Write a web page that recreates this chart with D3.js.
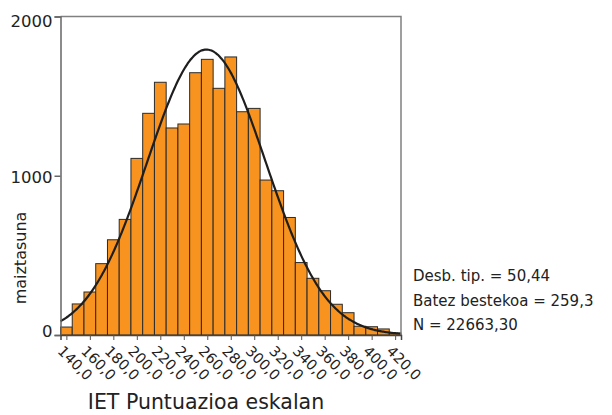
<!DOCTYPE html>
<html>
<head>
<meta charset="utf-8">
<script src="https://cdn.jsdelivr.net/npm/d3@7"></script>
<style>
  body { margin: 0; background: #fff; }
  text { font-family: "DejaVu Sans", sans-serif; fill: #222; }
</style>
</head>
<body>
<svg id="hist" width="612" height="415"></svg>
<script>
// bin centres (width 10) and frequencies
let bins = [140, 150, 160, 170, 180, 190, 200, 210, 220, 230, 240, 250, 260, 270, 280,
    290, 300, 310, 320, 330, 340, 350, 360, 370, 380, 390, 400, 410, 420];
let counts = [50, 195, 270, 448, 598, 726, 1109, 1392, 1587, 1300, 1325, 1647, 1731, 1549, 1746,
    1402, 1423, 973, 906, 738, 455, 356, 278, 193, 140, 55, 52, 38, 12];
let xTicks = [140, 160, 180, 200, 220, 240, 260, 280, 300, 320, 340, 360, 380, 400, 420];
let yTicks = [0, 1000, 2000];
let stats = {sd: 50.44, mean: 259.3, n: 22663.30};
let statLines = ["Desb. tip. = 50,44", "Batez bestekoa = 259,3", "N = 22663,30"];
let binWidth = 10;

let svg = d3.select("#hist"),
    plotL = 60.5, plotR = 401, plotT = 16.5, plotB = 335;

let x = d3.scaleLinear().domain([135, 425]).range([plotL, plotR]);
let y = d3.scaleLinear().domain([0, 2000]).range([plotB, plotT]);

let data = bins.map((b, i) => ({bin: b, count: counts[i]}));

// bars
svg.append("g").selectAll("rect")
    .data(data)
    .enter().append("rect")
    .attr("x", d => x(d.bin - binWidth / 2))
    .attr("y", d => y(d.count))
    .attr("width", d => x(d.bin + binWidth / 2) - x(d.bin - binWidth / 2))
    .attr("height", d => y(0) - y(d.count))
    .attr("fill", "#F7931E")
    .attr("stroke", "#2b2b2b")
    .attr("stroke-width", 1);

// normal curve from the reported stats
let dens = v => stats.n * binWidth / (stats.sd * Math.sqrt(2 * Math.PI)) *
    Math.exp(-0.5 * Math.pow((v - stats.mean) / stats.sd, 2));
let curvePts = d3.range(x.domain()[0], x.domain()[1] + 0.5, 1);
svg.append("path")
    .datum(curvePts)
    .attr("fill", "none")
    .attr("stroke", "#1e1e1e")
    .attr("stroke-width", 2.2)
    .attr("d", d3.line().x(v => x(v)).y(v => y(dens(v))).curve(d3.curveBasis));

// frame
svg.append("path")
    .attr("d", "M" + plotL + "," + plotT + "H" + plotR + "V" + plotB)
    .attr("fill", "none")
    .attr("stroke", "#808080")
    .attr("stroke-width", 1.5);

let yAxis = svg.append("g")
    .attr("transform", "translate(" + plotL + ",0)")
    .call(d3.axisLeft(y).tickValues(yTicks).tickSize(6).tickPadding(2).tickFormat(d3.format("d")));
yAxis.select(".domain").attr("stroke", "#666").attr("stroke-width", 1.5);
yAxis.selectAll(".tick line").attr("stroke", "#666").attr("stroke-width", 1.5);
yAxis.selectAll("text")
    .style("font-size", "16.5px")
    .attr("fill", "#222")
    .attr("dy", d => d === 2000 ? "0.6em" : (d === 0 ? "0.1em" : "0.38em"));

let xAxis = svg.append("g")
    .attr("transform", "translate(0," + plotB + ")")
    .call(d3.axisBottom(x).tickValues(xTicks).tickSize(5).tickFormat(d => d + ",0"));
xAxis.select(".domain").attr("stroke", "#444").attr("stroke-width", 1.5);
xAxis.selectAll(".tick line").attr("stroke", "#555");
xAxis.selectAll("text")
    .style("font-size", "14.5px")
    .attr("fill", "#222")
    .attr("text-anchor", "start")
    .attr("x", 0).attr("y", 0).attr("dy", 0)
    .attr("transform", "translate(-10,17) rotate(45)");

// axis titles
svg.append("text")
    .attr("transform", "translate(26,258) rotate(-90)")
    .attr("text-anchor", "middle")
    .style("font-size", "16px")
    .text("maiztasuna");

svg.append("text")
    .attr("x", 206).attr("y", 409)
    .attr("text-anchor", "middle")
    .style("font-size", "20.5px")
    .text("IET Puntuazioa eskalan");

// stats box
svg.append("g").selectAll("text")
    .data(statLines)
    .enter().append("text")
    .attr("x", 413)
    .attr("y", (d, i) => 281 + i * 24.5)
    .style("font-size", "15px")
    .text(d => d);
</script>
</body>
</html>
